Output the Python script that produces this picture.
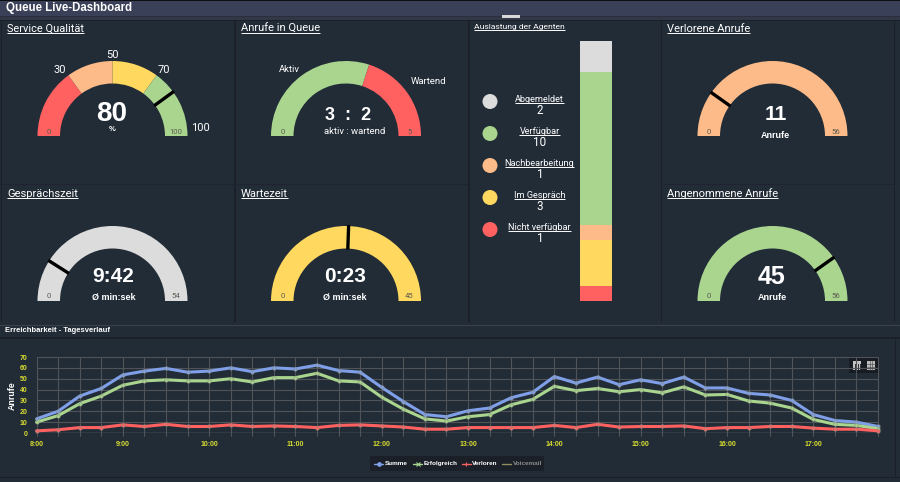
import matplotlib
matplotlib.use("Agg")
import matplotlib.pyplot as plt
from matplotlib.patches import Wedge, Rectangle, Circle
from matplotlib.lines import Line2D
import numpy as np, pandas as pd, seaborn as sns

RED, PEACH, YELLOW, GREEN, GREY = "#ff6161", "#fcbb88", "#ffd95f", "#a9d58f", "#dcdcdc"
BLUE = "#7f9fe8"
PANEL, GAP = "#222c37", "#1a1f28"

times = [f"{h}:{m:02d}" for h in range(8, 18) for m in (0, 15, 30, 45)]
summe = [13,20,34,41,53.5,57,59.5,56,57,60,56.5,60,59,62.5,57.5,56,42,29,17,15,
         20.5,23,32.5,37.5,52,46,51.5,44.5,49,45.5,51.5,41.5,41.5,36.5,35,30,17,11.5,10,6]
erfolgreich = [10,16,27,34,44,48,49,48,48,50,47,51,51,55,48,47,33,22,13,11,
               15,17,26,31,43,39,41,38,40,37,42.5,35,35.5,29.5,27.5,23,12.5,8,7,4]
verloren = [2,3,5,5,7.5,6,8,6,6,7.5,6,6.5,6,5,7,7.5,6.5,5.5,3.5,3.5,
            5,5,5,5,7,5,8,5.5,6,6,6.5,4,5,5,6,6,4.5,3.5,3.5,2]

agent_labels = ["Abgemeldet", "Verfügbar", "Nachbearbeitung", "Im Gespräch", "Nicht verfügbar"]
agent_counts = [2, 10, 1, 3, 1]
agent_colors = [GREY, GREEN, PEACH, YELLOW, RED]

service_edges = [0, 30, 50, 70, 100]
service_colors = [RED, PEACH, YELLOW, GREEN]
service_value = 80
queue_active, queue_waiting = 3, 2
talk_max, talk_value = 54, 9.7
wait_max, wait_value = 45, 23
lost_max, lost_value = 56, 11
taken_max, taken_value = 56, 45

W, H = 900, 482
sns.set_theme(style="dark")
plt.rcParams["font.family"] = ["Roboto", "DejaVu Sans"]
BOLD = ["Liberation Sans", "DejaVu Sans"]
fig = plt.figure(figsize=(W / 100, H / 100), dpi=100, facecolor=PANEL)

bg = fig.add_axes([0, 0, 1, 1], facecolor="none")
bg.set_xlim(0, W); bg.set_ylim(H, 0); bg.axis("off")

def rect(x0, y0, x1, y1, c, **k):
    bg.add_patch(Rectangle((x0, y0), x1 - x0, y1 - y0, fc=c, ec="none", **k))

rect(0, 0, 900, 1, "#0c0e12")
rect(0, 1, 900, 15.5, "#3a4058")
rect(0, 15.5, 900, 17, "#2a2f3c")
rect(0, 17, 900, 19.5, "#333848")
rect(0, 19.5, 900, 20.5, GAP)
# panel separators
for x0, x1 in [(0.5, 1.8), (233.8, 235.5), (468, 469.6), (660.5, 661.8), (893.6, 894.6)]:
    rect(x0, 20, x1, 322, GAP)
for x0, x1 in [(0, 468), (661, 894)]:
    rect(x0, 183.8, x1, 185, "#1e2530")
rect(0, 322, 900, 325, PANEL)
rect(0, 324.6, 900, 325.8, "#3c4249")
rect(0, 337.4, 900, 338.6, GAP)
rect(0, 477, 900, 478, GAP)
rect(894.8, 338, 895.8, 477, GAP)
rect(502, 15, 520, 17.5, "#d8d8d8")

def txt(x, y, s, size=8, color="white", weight="normal", ha="center", ul=False, **k):
    fam = BOLD if weight == "bold" else plt.rcParams["font.family"]
    t = bg.text(x, y, s, fontsize=size, color=color, fontweight=weight, ha=ha,
                va="baseline" if ul else "center", family=fam, **k)
    if ul:
        bb = t.get_window_extent(fig.canvas.get_renderer())
        bg.plot([bb.x0, bb.x1], [y + 1.3, y + 1.3], color=color, lw=0.7, solid_capstyle="butt")
    return t

txt(6, 8, "Queue Live-Dashboard", 8.3, weight="bold", ha="left")
for x, y, s, fs in [(7, 32, "Service Qualität", 7.9), (241, 32, "Anrufe in Queue", 8.0),
                    (474, 29, "Auslastung der Agenten", 6.1), (667, 32, "Verlorene Anrufe", 8.0),
                    (7, 197, "Gesprächszeit", 8.0), (241, 197, "Wartezeit", 8.0),
                    (667, 197, "Angenommene Anrufe", 8.0)]:
    txt(x, y, s, fs, ha="left", ul=True)

def gauge(cx, base, lo, hi, edges, colors, needle=None, ro=75, ri=52.5, tc="#5c5c50"):
    ang = lambda v: 180 * (1 - (v - lo) / (hi - lo))
    for a, b, c in zip(edges[:-1], edges[1:], colors):
        bg.add_patch(Wedge((cx, base), ro, -ang(a), -ang(b), width=ro - ri, fc=c, ec="none"))
    if needle is not None:
        t = np.radians(ang(needle))
        bg.plot([cx + (ri - 1) * np.cos(t), cx + (ro + 1) * np.cos(t)],
                [base - (ri - 1) * np.sin(t), base - (ro + 1) * np.sin(t)],
                color="black", lw=2.4, solid_capstyle="butt")
    txt(cx - 63.5, base - 4.5, str(lo), 5.6, tc)
    txt(cx + 63.5, base - 4.5, str(hi), 5.6, tc)

gauge(112.5, 136, 0, 100, service_edges, service_colors, service_value)
txt(112, 114, str(service_value), 20, weight="bold")
txt(112, 129.5, "%", 5.5, weight="bold")
for x, y, s in [(60, 70, "30"), (112, 55, "50"), (164, 70, "70"), (200, 128, "100")]:
    txt(x, y, s, 8)

gauge(346, 136, 0, queue_active + queue_waiting, [0, queue_active, queue_active + queue_waiting], [GREEN, RED])
txt(348, 115, f"{queue_active}  :  {queue_waiting}", 13, weight="bold")
txt(355, 132, "aktiv : wartend", 6.8)
txt(289, 70, "Aktiv", 6.8)
txt(428, 82, "Wartend", 6.8)

gauge(112.5, 301, 0, talk_max, [0, talk_max], [GREY], talk_value)
txt(113.5, 277, "9:42", 15, weight="bold")
txt(114, 297, "Ø min:sek", 6.5, weight="bold")

gauge(346, 301, 0, wait_max, [0, wait_max], [YELLOW], wait_value)
txt(345, 277, "0:23", 15, weight="bold")
txt(345, 297, "Ø min:sek", 6.5, weight="bold")

gauge(772.5, 136, 0, lost_max, [0, lost_max], [PEACH], lost_value)
txt(775.5, 114, str(lost_value), 15, weight="bold")
txt(775.5, 135, "Anrufe", 6.5, weight="bold")

gauge(772.5, 301, 0, taken_max, [0, taken_max], [GREEN], taken_value)
txt(772, 277, str(taken_value), 18, weight="bold")
txt(772, 298, "Anrufe", 6.5, weight="bold")

# agent legend
for i, (lab, n, c) in enumerate(zip(agent_labels, agent_counts, agent_colors)):
    bg.add_patch(Circle((490, 101.5 + 32 * i), 7.5, fc=c, ec="none"))
    txt(539.5, 101.5 + 32 * i, lab, 6.6, ul=True)
    txt(540, 111 + 32 * i, str(n), 8.4)

# stacked agents bar
bax = fig.add_axes([580 / W, 1 - 301 / H, 32 / W, 260 / H], facecolor="none")
bottoms = np.cumsum([0] + agent_counts[::-1])[:-1]
for lab, n, c, b in zip(agent_labels[::-1], agent_counts[::-1], agent_colors[::-1], bottoms):
    sns.barplot(x=[0], y=[n], color=c, bottom=b, width=1.0, saturation=1, ax=bax,
                native_scale=True, linewidth=0)
bax.set_xlim(-0.5, 0.5); bax.set_ylim(0, sum(agent_counts)); bax.axis("off")

# line chart
txt(5, 331, "Erreichbarkeit - Tagesverlauf", 5.5, weight="bold", ha="left")
ax = fig.add_axes([36.5 / W, 1 - 433 / H, (878 - 36.5) / W, 76 / H], facecolor="none")
x = np.arange(len(times)) * 0.25 + 8
df = pd.DataFrame({"t": np.tile(x, 3),
                   "Anrufe": summe + erfolgreich + verloren,
                   "s": ["Summe"] * 40 + ["Erfolgreich"] * 40 + ["Verloren"] * 40})
sns.lineplot(data=df, x="t", y="Anrufe", hue="s", palette=[BLUE, GREEN, RED], lw=2.2,
             marker="o", ms=2.5, mec="#8a8f80", mew=0.4, legend=False, ax=ax, clip_on=False, zorder=3)
ax.set_xlim(8, 17.75); ax.set_ylim(0, 70)
ax.set_xticks(np.arange(8, 18)); ax.set_xticklabels([f"{h}:00" for h in range(8, 18)])
ax.set_yticks(range(0, 71, 10))
ax.tick_params(axis="x", colors="#d8dc30", labelsize=5.0, length=0, pad=5.5)
ax.tick_params(axis="y", colors="#d8dc30", labelsize=5.0, length=0, pad=6.5)
for lb in ax.get_xticklabels() + ax.get_yticklabels():
    lb.set_fontweight("bold"); lb.set_family(BOLD)
ax.grid(False)
for v in range(10, 71, 10):
    ax.axhline(v, color="#505458", lw=0.8, zorder=1)
ax.axhline(0, color="#6c6f70", lw=1, zorder=1.5)
for v in x:
    ax.plot([v, v], [-3, 70], color="#505458", lw=0.8, zorder=1, clip_on=False)
for s in ax.spines.values():
    s.set_visible(False)
ax.set_xlabel(""); ax.set_ylabel("")
txt(12, 396, "Anrufe", 6.4, weight="bold", rotation=90)

# legend
rect(370, 456, 543.5, 471, "#1a1f28")
for (x0, s, c, m, tx, tc) in [(374, "Summe", BLUE, "o", 385, "white"),
                              (413, "Erfolgreich", GREEN, "x", 424, "white"),
                              (461.5, "Verloren", RED, "+", 472, "white"),
                              (502, "Voicemail", "#8f8f60", None, 513, "#8c8c8c")]:
    bg.add_line(Line2D([x0, x0 + 9], [463.5, 463.5], color=c, lw=1))
    if m:
        bg.add_line(Line2D([x0 + 4.5], [463.5], color=c, marker=m, ms=2.6, ls="none", mew=0.8))
    txt(tx, 463.5, s, 4.6, tc, "bold", ha="left")

# tool icons
rect(849, 357, 878.5, 372.5, "#171b22")
rect(853, 360.5, 861, 369.5, "#c4c4c4")
for xx in (855, 857.5, 860):
    rect(xx, 364, xx + 1, 369.5, "#33383f")
rect(867, 360.5, 875, 369.5, "#bdbdbd")
for yy in (363.5, 366.5):
    bg.add_line(Line2D([867, 875], [yy, yy], color="#555", lw=0.5))
for xx in (869.7, 872.3):
    bg.add_line(Line2D([xx, xx], [360.5, 369.5], color="#555", lw=0.5))

fig.savefig("out.png", dpi=100, facecolor=PANEL)
